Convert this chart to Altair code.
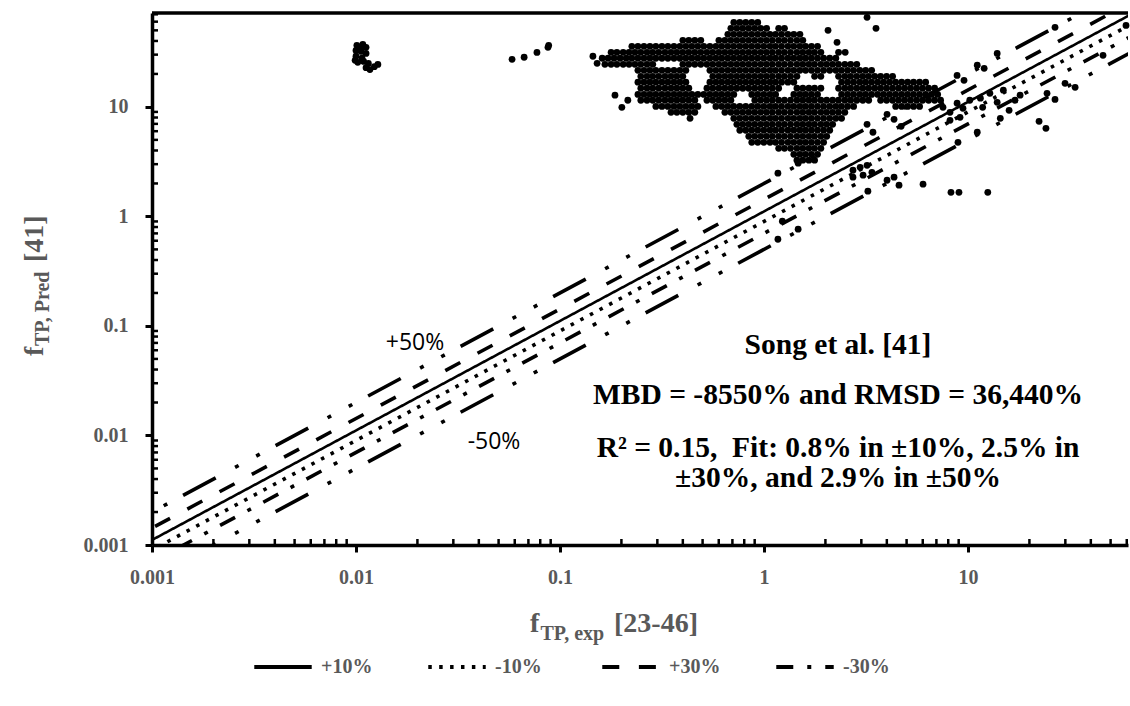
import altair as alt
import pandas as pd

# ---------------------------------------------------------------------------
# Layout of the plot area (pixels) and axis ranges
# ---------------------------------------------------------------------------
W, H = 976, 532
X_DOM = [0.001, 60.85]
Y_DOM = [0.001, 72]
SERIF = "Liberation Serif"
GREY = "#595959"

# ---------------------------------------------------------------------------
# Data: f_TP,exp (x) against f_TP,Pred (y)
# ---------------------------------------------------------------------------
# dense cloud, listed row by row: (y value, x values on that row)
cloud_rows = [
    (59.1, [0.711, 0.761, 0.814, 0.871, 0.932]),
    (52.2, [0.688, 0.736, 0.787, 0.842, 0.901, 0.965, 1.03, 1.18, 1.26]),
    (46.0, [0.665, 0.711, 0.761, 0.814, 0.871, 0.932, 0.998, 1.07, 1.14, 1.22, 1.31, 1.40, 1.50]),
    (40.5, [0.400, 0.428, 0.458, 0.490, 0.601, 0.643, 0.688, 0.736, 0.787, 0.842, 0.901, 0.965,
            1.03, 1.10, 1.18, 1.26, 1.35, 1.45, 1.55]),
    (35.7, [0.225, 0.241, 0.258, 0.276, 0.295, 0.316, 0.338, 0.362, 0.387, 0.414, 0.443, 0.474,
            0.507, 0.543, 0.581, 0.621, 0.665, 0.711, 0.761, 0.814, 0.871, 0.932, 0.998, 1.07,
            1.14, 1.22, 1.31, 1.40, 1.50, 1.60, 1.71, 1.83]),
    (31.5, [0.178, 0.190, 0.204, 0.218, 0.233, 0.249, 0.267, 0.285, 0.305, 0.327, 0.350, 0.374,
            0.400, 0.428, 0.458, 0.490, 0.525, 0.561, 0.601, 0.643, 0.688, 0.736, 0.787, 0.842,
            0.901, 0.965, 1.03, 1.10, 1.18, 1.26, 1.35, 1.45, 1.55, 1.66, 1.77, 1.90, 2.32]),
    (27.8, [0.161, 0.172, 0.184, 0.197, 0.211, 0.225, 0.241, 0.258, 0.276, 0.295, 0.316, 0.338,
            0.362, 0.387, 0.414, 0.443, 0.474, 0.507, 0.543, 0.581, 0.621, 0.665, 0.711, 0.761,
            0.814, 0.871, 0.932, 0.998, 1.07, 1.14, 1.22, 1.31, 1.40, 1.50, 1.60, 1.71, 1.83,
            1.96, 2.10, 2.25]),
    (24.5, [0.166, 0.178, 0.190, 0.204, 0.218, 0.233, 0.249, 0.267, 0.285, 0.400, 0.428, 0.458,
            0.490, 0.525, 0.561, 0.601, 0.643, 0.688, 0.736, 0.787, 0.842, 0.901, 0.965, 1.03,
            1.10, 1.18, 1.26, 1.35, 1.45, 1.55, 1.66, 1.77, 1.90, 2.03, 2.17, 2.32, 2.49, 2.66, 2.85]),
    (21.6, [0.241, 0.258, 0.276, 0.295, 0.316, 0.338, 0.362, 0.387, 0.414, 0.543, 0.581, 0.621,
            0.665, 0.711, 0.761, 0.814, 0.871, 0.932, 0.998, 1.07, 1.14, 1.22, 1.31, 1.40, 1.50,
            1.60, 1.71, 1.83, 1.96, 2.10, 2.25, 2.40, 2.57, 2.75, 2.95, 3.15, 3.37]),
    (19.0, [0.249, 0.267, 0.285, 0.305, 0.327, 0.350, 0.374, 0.400, 0.561, 0.601, 0.643, 0.688,
            0.736, 0.787, 0.842, 0.901, 0.965, 1.03, 1.10, 1.18, 1.26, 1.35, 1.45, 1.77, 1.90,
            2.32, 2.49, 2.66, 2.85, 3.05, 3.26, 3.49, 3.73, 3.99, 4.27]),
    (16.8, [0.241, 0.258, 0.276, 0.295, 0.316, 0.338, 0.362, 0.387, 0.414, 0.543, 0.581, 0.621,
            0.665, 0.711, 0.761, 0.814, 0.871, 0.932, 0.998, 1.07, 1.14, 1.22, 1.31, 1.40, 2.40,
            2.57, 2.75, 2.95, 3.15, 3.37, 3.61, 3.86, 4.13, 4.42, 4.73, 5.06, 5.41, 5.79, 6.20]),
    (14.8, [0.249, 0.267, 0.285, 0.305, 0.327, 0.350, 0.374, 0.400, 0.428, 0.525, 0.561, 0.601,
            0.643, 0.688, 0.736, 0.787, 0.842, 0.901, 0.965, 1.03, 1.10, 1.18, 1.45, 1.55, 1.66,
            1.77, 1.90, 2.32, 2.49, 2.66, 2.85, 3.05, 3.26, 3.49, 3.73, 3.99, 4.27, 4.57, 4.89,
            5.23, 5.60, 5.99, 6.41, 6.86]),
    (13.0, [0.241, 0.258, 0.276, 0.295, 0.316, 0.338, 0.362, 0.387, 0.414, 0.443, 0.474, 0.507,
            0.543, 0.581, 0.621, 0.665, 0.711, 0.871, 0.932, 0.998, 1.07, 1.14, 1.40, 1.50, 1.60,
            1.71, 1.83, 2.40, 2.57, 2.75, 2.95, 3.15, 3.37, 3.61, 3.86, 4.13, 4.42, 4.73, 5.06,
            5.41, 5.79, 6.20, 6.63, 7.10]),
    (11.5, [0.249, 0.267, 0.285, 0.305, 0.327, 0.350, 0.374, 0.400, 0.428, 0.458, 0.525, 0.561,
            0.601, 0.643, 0.688, 0.901, 0.965, 1.03, 1.10, 1.18, 1.26, 1.35, 1.45, 1.55, 1.66,
            1.77, 1.90, 2.03, 2.17, 2.32, 2.49, 2.66, 2.85, 3.05, 3.26, 3.73, 3.99, 4.27, 4.57,
            4.89, 5.23, 5.60, 5.99, 6.41, 6.86, 7.34]),
    (10.1, [0.295, 0.316, 0.338, 0.362, 0.387, 0.414, 0.443, 0.474, 0.581, 0.621, 0.665, 0.711,
            0.761, 0.814, 0.871, 0.932, 0.998, 1.07, 1.14, 1.22, 1.31, 1.40, 1.50, 1.60, 1.71,
            1.83, 1.96, 2.10, 2.25, 2.40, 2.57, 2.75, 4.42, 4.73, 5.06, 5.41, 5.79]),
    (8.93, [0.350, 0.374, 0.400, 0.428, 0.458, 0.643, 0.688, 0.736, 0.787, 0.842, 0.901, 0.965,
            1.03, 1.10, 1.18, 1.26, 1.35, 1.45, 1.55, 1.66, 1.77, 1.90, 2.03, 2.17, 2.32, 2.49]),
    (7.87, [0.711, 0.761, 0.814, 0.871, 0.932, 0.998, 1.07, 1.14, 1.22, 1.31, 1.40, 1.50, 1.60,
            1.71, 1.83, 1.96, 2.10, 2.25, 2.40]),
    (6.94, [0.736, 0.787, 0.842, 0.901, 0.965, 1.03, 1.10, 1.18, 1.26, 1.35, 1.45, 1.55, 1.66,
            1.77, 1.90, 2.03, 2.17]),
    (6.12, [0.761, 0.814, 0.871, 0.932, 0.998, 1.07, 1.14, 1.22, 1.31, 1.40, 1.50, 1.60, 1.71,
            1.83, 1.96, 2.10]),
    (5.39, [0.842, 0.901, 0.965, 1.03, 1.10, 1.18, 1.26, 1.35, 1.45, 1.55, 1.66, 1.77, 1.90, 2.03]),
    (4.75, [0.871, 0.932, 0.998, 1.07, 1.14, 1.22, 1.31, 1.40, 1.50, 1.60, 1.71, 1.83, 1.96]),
    (4.19, [1.18, 1.26, 1.35, 1.45, 1.55, 1.66, 1.77, 1.90]),
    (3.69, [1.40, 1.50, 1.60, 1.71, 1.83]),
    (3.26, [1.45, 1.55, 1.66, 1.77]),
]

# scattered points outside the cloud (x, y)
scatter_x = [
    0.0101, 0.0108, 0.0112, 0.0100, 0.0106, 0.0112, 0.0100, 0.0107, 0.0102, 0.0109, 0.0115,
    0.0112, 0.0117, 0.0123, 0.0128, 0.0099, 0.0105,
    0.0582, 0.0667, 0.0771, 0.0873, 0.0880,
    0.145, 0.152, 0.186, 0.215, 0.201, 0.434,
    2.06, 3.54, 3.20, 2.28, 2.50,
    8.84, 11.1, 13.9, 26.7, 45.9, 33.5, 26.7, 24.1, 59.5, 9.56, 12.0,
    29.9, 24.4, 22.3, 11.1, 8.93, 8.25, 9.03, 12.5, 6.02, 4.59, 4.34, 4.01, 3.23,
    1.47, 1.17, 1.23, 1.17, 1.47, 3.20, 4.01, 4.34, 3.42, 4.70,
    2.73, 2.96, 3.20, 3.38, 3.06, 2.73,
    7.54, 8.16, 8.84, 9.45, 10.2, 11.5, 12.8, 13.9, 14.9, 8.16, 9.14, 11.8, 15.9, 17.0, 18.0, 14.4,
]
scatter_y = [
    36.5, 37.3, 35.0, 32.8, 32.1, 30.8, 29.0, 27.8, 25.5, 26.0, 24.9,
    22.8, 21.9, 23.3, 24.4, 26.6, 34.2,
    27.2, 28.4, 31.4, 35.0, 36.5,
    29.0, 25.0, 12.8, 11.5, 9.92, 7.87,
    50.0, 52.2, 65.7, 38.9, 31.5,
    19.4, 24.0, 30.8, 53.3, 29.6, 15.1, 11.7, 6.38, 55.5, 17.5, 22.5,
    16.4, 13.3, 7.39, 5.87, 4.75, 1.66, 1.66, 1.66, 1.97, 1.93, 2.28, 2.14, 1.70,
    0.764, 0.619, 0.904, 2.48, 3.06, 6.94, 8.56, 7.71, 5.87, 6.65,
    2.64, 2.81, 2.93, 2.53, 2.38, 2.28,
    9.92, 8.93, 10.8, 9.71, 11.5, 12.0, 13.3, 11.0, 14.2, 7.54, 8.04, 9.92, 9.31, 11.5, 12.8, 7.87,
]

pts_x, pts_y = [], []
for yv, row in cloud_rows:
    pts_x += row
    pts_y += [yv] * len(row)
pts_x += scatter_x
pts_y += scatter_y
pts_df = pd.DataFrame({"x": pts_x, "y": pts_y})

# error bands: upper  y = x / (1 - p),  lower  y = x * (1 - p)
legend_bands = ["+10%", "-10%", "+30%", "-30%"]
legend_factors = [1 / 0.9, 0.9, 1 / 0.7, 0.7]
legend_dashes = [[1, 0], [3.5, 7.4], [17, 19.6], [17, 14, 4, 14]]
outer_bands = ["+50%", "-50%"]
outer_factors = [1 / 0.5, 0.5]
line_ends = [0.0005, 100]

bands_df = pd.DataFrame(
    [{"band": b, "x": xv, "y": f * xv} for b, f in zip(legend_bands, legend_factors) for xv in line_ends]
)
outer_df = pd.DataFrame(
    [{"band": b, "x": xv, "y": f * xv} for b, f in zip(outer_bands, outer_factors) for xv in line_ends]
)

decades = [0.001, 0.01, 0.1, 1, 10]
minor_x = [m * d for d in decades for m in range(2, 10) if m * d <= X_DOM[1]]
minor_y = [m * d for d in decades for m in range(2, 10) if m * d <= Y_DOM[1]]

# ---------------------------------------------------------------------------
# Scales and axes
# ---------------------------------------------------------------------------
xscale = alt.Scale(type="log", domain=X_DOM, nice=False)
yscale = alt.Scale(type="log", domain=Y_DOM, nice=False)

axis_style = dict(
    values=decades, format="~g", title=None, grid=False,
    domainColor="black", domainWidth=3.5, tickColor="black", tickWidth=3, tickSize=7,
    labelFont=SERIF, labelFontSize=20, labelFontWeight="bold", labelColor=GREY,
    labelFlush=False, labelOverlap=False, zindex=2,
)
x_axis = alt.Axis(labelPadding=15, **axis_style)
y_axis = alt.Axis(labelPadding=17, **axis_style)

X = lambda: alt.X("x:Q", scale=xscale, axis=x_axis)
Y = lambda: alt.Y("y:Q", scale=yscale, axis=y_axis)

# ---------------------------------------------------------------------------
# Layers
# ---------------------------------------------------------------------------
legend_lines = alt.Chart(bands_df).mark_line(color="black", clip=True).encode(
    x=X(), y=Y(),
    strokeWidth=alt.condition(alt.datum.band == "+10%", alt.value(2.6), alt.value(3.6)),
    strokeDash=alt.StrokeDash(
        "band:N",
        scale=alt.Scale(domain=legend_bands, range=legend_dashes),
        legend=alt.Legend(
            title=None, orient="none", legendX=100, legendY=623, direction="horizontal",
            symbolType="stroke", symbolSize=3300, symbolStrokeWidth=4,
            symbolStrokeColor="black", labelFont=SERIF, labelFontSize=20,
            labelFontWeight="bold", labelColor=GREY, labelOffset=7,
            columnPadding=47, gridAlign="all", padding=0,
        ),
    ),
)

outer_lines = alt.Chart(outer_df).mark_line(
    color="black", strokeWidth=3.6, clip=True, strokeDash=[37, 22, 4, 20, 4, 18]
).encode(x=X(), y=Y(), detail="band:N")

points = alt.Chart(pts_df).mark_circle(size=46, color="black", opacity=1).encode(x=X(), y=Y())

x_minor = alt.Chart(pd.DataFrame({"x": minor_x})).mark_rule(color="black", strokeWidth=2.5).encode(
    x=X(), y=alt.value(H), y2=alt.value(H - 6)
)
y_minor = alt.Chart(pd.DataFrame({"y": minor_y})).mark_rule(color="black", strokeWidth=2.5).encode(
    y=Y(), x=alt.value(0), x2=alt.value(6)
)
frame_top = alt.Chart(pd.DataFrame({"y": [Y_DOM[1]]})).mark_rule(color="black", strokeWidth=3.5).encode(
    y=Y(), x=alt.value(0), x2=alt.value(W)
)


def text(t, x, y, size, font=SERIF, weight="bold", color="black", angle=0,
         align="center", baseline="middle"):
    return alt.Chart(pd.DataFrame({"t": [t]})).mark_text(
        font=font, fontSize=size, fontWeight=weight, color=color, angle=angle,
        align=align, baseline=baseline,
    ).encode(x=alt.value(x), y=alt.value(y), text="t:N")


NB = "\u00a0"
texts = [
    text("Song et al. [41]", 686, 332, 29.5),
    text("MBD = -8550% and RMSD = 36,440%", 686, 382, 29.5),
    text("R\u00b2 = 0.15," + NB + " Fit: 0.8% in \u00b110%, 2.5% in", 686, 435, 29.5),
    text("\u00b130%, and 2.9% in \u00b150%", 686, 465, 29.5),
    text("+50%", 263, 330, 23, font="Open Sans", weight="normal"),
    text("-50%", 342, 429, 23, font="Open Sans", weight="normal"),
    # x-axis title: f_{TP, exp} [23-46]
    text("f", 378, 619, 28, color=GREY, align="left", baseline="alphabetic"),
    text("TP, exp", 388.5, 627, 20, color=GREY, align="left", baseline="alphabetic"),
    text("[23-46]", 462, 619, 28, color=GREY, align="left", baseline="alphabetic"),
    # y-axis title: f_{TP, Pred} [41]
    text("f", -109, 343, 28, color=GREY, angle=270, align="left", baseline="alphabetic"),
    text("TP, Pred", -103, 333, 20, color=GREY, angle=270, align="left", baseline="alphabetic"),
    text("[41]", -109, 249, 28, color=GREY, angle=270, align="left", baseline="alphabetic"),
]

chart = alt.layer(
    outer_lines, legend_lines, points, x_minor, y_minor, frame_top, *texts
).properties(
    width=W, height=H,
    padding={"left": 152, "top": 13, "right": 2, "bottom": 161},
    autosize=alt.AutoSizeParams(type="none"),
    background="white",
).configure_view(stroke=None)

chart.save("out.html", embed_options={"renderer": "svg", "actions": False})
